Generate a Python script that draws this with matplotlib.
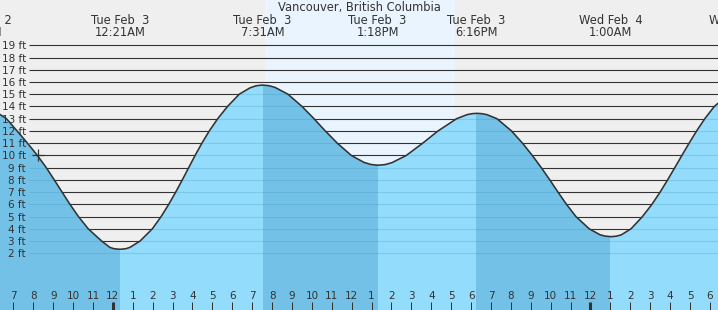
import matplotlib
matplotlib.use("Agg")
import matplotlib.pyplot as plt

# ---------------- data (hours relative to Tue Feb 3 00:00, heights in ft) ----------------
title = "Vancouver, British Columbia"

curve_hours = [-5.724, -5.347, -4.814, -4.291, -3.794, -3.347, -2.945, -2.553, -2.156, -1.729,
               -1.236, -0.563, -0.146, 0.055, 0.357, 0.658, 0.859,
               1.362, 1.980, 2.422, 2.804, 3.156, 3.487, 3.809, 4.131, 4.472, 4.844, 5.266,
               5.759, 6.347, 6.889, 7.191, 7.508, 7.844,
               8.146, 8.799, 9.503, 10.106, 10.673, 11.276, 11.980, 12.618, 12.970, 13.322,
               13.673, 14.025, 14.744, 15.568, 16.337, 17.271, 17.794, 18.045, 18.296, 18.548,
               18.799, 19.302, 20.030, 20.583, 21.075, 21.528, 21.955, 22.367, 22.794, 23.271,
               23.940, 24.477, 24.729, 25.030, 25.281,
               25.533, 26.035, 26.608, 27.085, 27.497, 27.874, 28.236, 28.593, 28.955, 29.332,
               29.744, 30.221, 30.507]
curve_ft = [13.4, 13.0, 12.0, 11.0, 10.0, 9.0, 8.0, 7.0, 6.0, 5.0,
            4.0, 3.0, 2.48, 2.38, 2.33, 2.38, 2.49,
            3.0, 4.0, 5.0, 6.0, 7.0, 8.0, 9.0, 10.0, 11.0, 12.0, 13.0,
            14.0, 15.0, 15.52, 15.69, 15.75, 15.70,
            15.56, 15.0, 14.0, 13.0, 12.0, 11.0, 10.0, 9.43, 9.26, 9.2,
            9.25, 9.41, 10.0, 11.0, 12.0, 13.0, 13.33, 13.41, 13.44, 13.41,
            13.33, 13.0, 12.0, 11.0, 10.0, 9.0, 8.0, 7.0, 6.0, 5.0,
            4.0, 3.52, 3.41, 3.36, 3.40,
            3.50, 4.0, 5.0, 6.0, 7.0, 8.0, 9.0, 10.0, 11.0, 12.0,
            13.0, 14.0, 14.4]

tide_hours = [-6.68, 0.35, 7.52, 13.30, 18.27, 25.0, 31.53]
tide_days = ["Mon Feb  2", "Tue Feb  3", "Tue Feb  3", "Tue Feb  3", "Tue Feb  3", "Wed Feb  4", "Wed Feb  4"]
tide_times = ["5:19PM", "12:21AM", "7:31AM", "1:18PM", "6:16PM", "1:00AM", "7:32AM"]
tide_kind = ["H", "L", "H", "L", "H", "L", "H"]

sunrise_hour = 7.64
sunset_hour = 17.19

now_hour = -3.78
now_ft = 10.05

ft_levels = list(range(2, 20))
ft_labels = [f"{v} ft" for v in ft_levels]

hour_ticks = list(range(-5, 31))
hour_labels = ["7", "8", "9", "10", "11", "12", "1", "2", "3", "4", "5", "6", "7", "8", "9", "10",
               "11", "12", "1", "2", "3", "4", "5", "6", "7", "8", "9", "10", "11", "12",
               "1", "2", "3", "4", "5", "6"]
midnight_hours = [0, 24]

# ---------------- style ----------------
W, H, DPI = 718, 310, 100
BG = "#EFEFEF"
DAY = "#EAF4FE"
RISING = "#94DCFC"
FALLING = "#73C1E6"
INK = "#333333"
XMIN, XMAX = -5.673, 30.407
YMIN, YMAX = -2.63, 22.70

plt.rcParams["font.family"] = ["DejaVu Sans"]

fig = plt.figure(figsize=(W / DPI, H / DPI), dpi=DPI, facecolor=BG)
ax = fig.add_axes([0, 0, 1, 1])
ax.set_facecolor(BG)
ax.set_xlim(XMIN, XMAX)
ax.set_ylim(YMIN, YMAX)
for s in ax.spines.values():
    s.set_visible(False)

# daylight band
ax.axvspan(sunrise_hour, sunset_hour, color=DAY, zorder=0, lw=0)

# grid lines (above water they are dark)
ytr = ax.get_yaxis_transform()
ax.hlines(ft_levels, 29 / W, 1, transform=ytr, color=INK, lw=0.8, zorder=1)

# water
water = ax.fill_between(curve_hours, curve_ft, YMIN, color=RISING, lw=0, zorder=2)
clip = water.get_paths()[0]
for i in range(len(tide_hours) - 1):
    if tide_kind[i] == "H":
        sp = ax.axvspan(tide_hours[i], tide_hours[i + 1], color=FALLING, lw=0, zorder=2.1)
        sp.set_clip_path(clip, ax.transData)
under = ax.hlines(ft_levels, 29 / W, 1, transform=ytr, color="#2080B0", alpha=0.2, lw=0.8, zorder=2.2)
under.set_clip_path(clip, ax.transData)

ax.plot(curve_hours, curve_ft, color=INK, lw=1.15, zorder=4,
        solid_capstyle="round", solid_joinstyle="round")
ax.plot([now_hour], [now_ft], marker="+", ms=8, mew=0.9, color=INK, zorder=5)

# axes ticks / labels
ax.set_axisbelow(False)
ax.set_xticks(hour_ticks)
ax.set_xticklabels(hour_labels)
ax.tick_params(axis="x", direction="in", length=5.8, width=0.72, color=INK,
               labelcolor=INK, labelsize=7.5, pad=-13.6)
for t, h in zip(ax.xaxis.get_major_ticks(), hour_ticks):
    if h in midnight_hours:
        t.tick1line.set_markeredgewidth(2.2)
ax.set_yticks(ft_levels)
ax.set_yticklabels(ft_labels)
ax.tick_params(axis="y", direction="in", length=0, labelcolor=INK, labelsize=7.5, pad=-18.7)
ax.xaxis.set_zorder(6)
ax.yaxis.set_zorder(6)

# top labels
xtr = ax.get_xaxis_transform()
ax.text(0.5, 1 - 7.5 / H, title, transform=ax.transAxes, ha="center", va="center",
        fontsize=8.3, color=INK, zorder=7)
for h, d, t in zip(tide_hours, tide_days, tide_times):
    ax.text(h, 1 - 20 / H, d, transform=xtr, ha="center", va="center", fontsize=8.3, color=INK, zorder=7)
    ax.text(h, 1 - 32 / H, t, transform=xtr, ha="center", va="center", fontsize=8.3, color=INK, zorder=7)

fig.savefig("out.png", dpi=DPI, facecolor=BG)
